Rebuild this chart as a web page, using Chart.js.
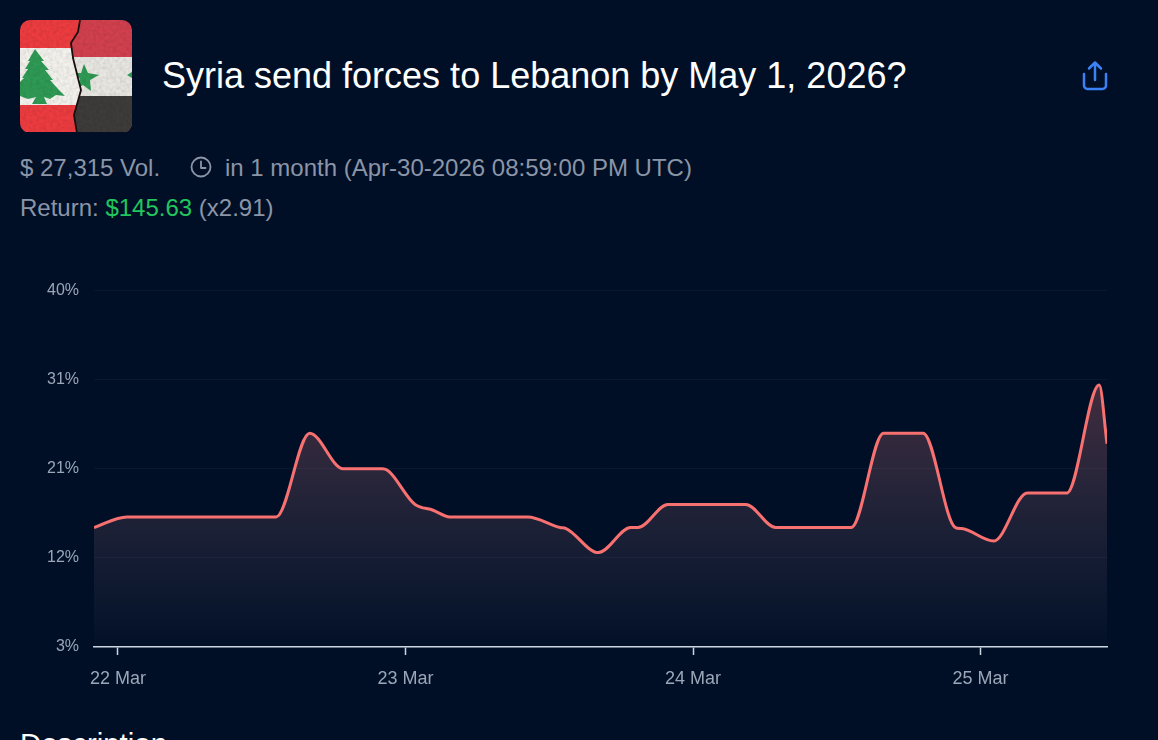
<!DOCTYPE html>
<html>
<head>
<meta charset="utf-8">
<title>Syria send forces to Lebanon by May 1, 2026?</title>
<script src="https://cdn.jsdelivr.net/npm/chart.js@4"></script>
<style>
  html, body { margin: 0; width: 1158px; height: 740px; overflow: hidden; background: #000f26; font-family: "Liberation Sans", Arial, sans-serif; }
  .abs { position: absolute; white-space: nowrap; }
  #title { left: 162px; top: 54px; font-size: 36px; line-height: 44px; color: #fff; }
  .meta { font-size: 24px; line-height: 28px; color: #8b95a7; }
  #chartBox { position: absolute; left: 20px; top: 266px; width: 1100px; height: 424px; }
  #description { left: 20px; top: 727px; font-size: 29.4px; line-height: 34px; color: #fff; }
</style>
</head>
<body>
<svg class="abs" style="left:20px;top:20px" width="112" height="112" viewBox="0 0 112 112">
  <defs>
    <clipPath id="round"><rect width="112" height="113" rx="10"/></clipPath>
    <clipPath id="leftHalf"><path d="M0 0H60L58 12 51 23 53 38 61 70 54 95 57 113H0Z"/></clipPath>
    <clipPath id="rightHalf"><path d="M112 0H60L58 12 51 23 53 38 61 70 54 95 57 113H112Z"/></clipPath>
    <filter id="grain" x="0" y="0" width="100%" height="100%">
      <feTurbulence type="fractalNoise" baseFrequency="0.3" numOctaves="3" seed="4"/>
      <feColorMatrix values="0 0 0 0 0  0 0 0 0 0  0 0 0 0 0  0.9 0 0 0 -0.3"/>
    </filter>
  </defs>
  <g clip-path="url(#round)">
    <g clip-path="url(#leftHalf)">
      <rect width="112" height="113" fill="#ec3c40"/>
      <rect y="28" width="112" height="57" fill="#f3f1ec"/>
      <path fill="#2f9a55" d="M15 29 24 41H21L29 50H25L33 60H30L39 70 45 76 36 75 30 79 24 77 27 84H12L16 77 8 79 0 76V62L4 58H2L8 49H5L10 41H8Z"/>
    </g>
    <g clip-path="url(#rightHalf)">
      <rect width="112" height="113" fill="#d2404e"/>
      <rect y="37" width="112" height="39" fill="#e8e6e1"/>
      <rect y="76" width="112" height="37" fill="#3d3c3a"/>
      <path fill="#2f9a55" d="M64 44 68 53 79 55 70 60 71 71 63 65 58 68 60 59 55 53 61 53Z"/>
      <path fill="#2f9a55" d="M112 52 107 55 112 58Z"/>
    </g>
    <path d="M60 0 58 12 51 23 53 38 61 70 54 95 57 113" fill="none" stroke="#1a0f0f" stroke-width="1.8"/>
    <rect width="112" height="113" filter="url(#grain)" opacity="0.2"/>
  </g>
</svg>
<div class="abs" id="title">Syria send forces to Lebanon by May 1, 2026?</div>
<svg class="abs" style="left:1080px;top:60px" width="30" height="32" viewBox="0 0 30 32" fill="none" stroke="#3b82f6" stroke-width="2.5" stroke-linecap="round" stroke-linejoin="round">
  <path d="M15 20V3M9 8.500 15 2.500 21 8.500"/>
  <path d="M4 14V25.500A3.500 3.500 0 0 0 7.500 29H22.500A3.500 3.500 0 0 0 26 25.500V14"/>
</svg>
<div class="abs meta" style="left:20px;top:154px">$ 27,315 Vol.</div>
<svg class="abs" style="left:190px;top:156px" width="22" height="22" viewBox="0 0 22 22" fill="none" stroke="#8b95a7" stroke-width="1.8" stroke-linecap="round" stroke-linejoin="round">
  <circle cx="11" cy="11" r="9.500"/>
  <path d="M11 5.500V12H15.500"/>
</svg>
<div class="abs meta" style="left:225px;top:154px">in 1 month (Apr-30-2026 08:59:00 PM UTC)</div>
<div class="abs meta" style="left:20px;top:194px">Return: <span style="color:#22c55e">$145.63</span> (x2.91)</div>

<div id="chartBox"><canvas id="priceChart"></canvas></div>
<div class="abs" id="description">Description</div>

<script>
// hours counted from 22 Mar 00:00
const hours = [-2, 0.75, 13.2, 16, 18.8, 22.1, 24.8, 26.3, 27.7, 34.2, 36.9, 37.4, 40.1, 42.8, 43.4, 45.9, 52.4, 54.9, 61.2, 63.9, 67.2, 69.9, 70.4, 73.1, 75.9, 79.2, 81.9, 82.55];
const chance = [15.4, 16.5, 16.5, 25.2, 21.5, 21.5, 17.8, 17.2, 16.5, 16.5, 15.4, 15.3, 12.8, 15.4, 15.4, 17.8, 17.8, 15.4, 15.4, 25.2, 25.2, 15.4, 15.3, 14, 19, 19, 30.2, 24.1];
const dayTicks = [0, 24, 48, 72];
const dayLabels = ['22 Mar', '23 Mar', '24 Mar', '25 Mar'];
const yTicks = [3, 12.25, 21.5, 30.75, 40];
const yLabels = ['3%', '12%', '21%', '31%', '40%'];

const areaFill = (context) => {
    const { chart } = context;
    const { ctx, chartArea, scales } = chart;
    if (!chartArea) return 'transparent';
    const top = scales.y.getPixelForValue(Math.max(...chance));
    const gradient = ctx.createLinearGradient(0, top, 0, chartArea.bottom);
    gradient.addColorStop(0, 'rgba(248, 125, 128, 0.27)');
    gradient.addColorStop(1, 'rgba(190, 170, 190, 0.01)');
    return gradient;
};

new Chart(document.getElementById('priceChart'), {
    type: 'line',
    data: {
        datasets: [{
            data: hours.map((h, i) => ({ x: h, y: chance[i] })),
            borderColor: '#f87171',
            borderWidth: 3,
            backgroundColor: areaFill,
            fill: 'start',
            pointRadius: 0,
            cubicInterpolationMode: 'monotone'
        }]
    },
    options: {
        responsive: true,
        maintainAspectRatio: false,
        animation: false,
        layout: { padding: { top: 15, right: 13, left: 0, bottom: 0 } },
        plugins: { legend: { display: false }, tooltip: { enabled: false } },
        scales: {
            x: {
                type: 'linear',
                min: -2,
                max: 82.55,
                afterBuildTicks: (axis) => { axis.ticks = dayTicks.map(value => ({ value })); },
                afterFit: (axis) => { axis.height = 43; },
                border: { color: '#cbd5e1', width: 1.5 },
                grid: { drawOnChartArea: false, drawTicks: true, tickLength: 8, tickColor: '#cbd5e1', tickWidth: 1.5 },
                ticks: {
                    autoSkip: false,
                    maxRotation: 0,
                    padding: 13,
                    color: '#9ba6b8',
                    font: { family: '"Liberation Sans", Arial, sans-serif', size: 18 },
                    callback: (value) => dayLabels[dayTicks.indexOf(value)]
                }
            },
            y: {
                min: 3,
                max: 40,
                afterBuildTicks: (axis) => { axis.ticks = yTicks.map(value => ({ value })); },
                afterFit: (axis) => { axis.width = 74; },
                border: { display: false },
                grid: { color: 'rgba(148, 163, 184, 0.06)', drawTicks: false },
                ticks: {
                    padding: 15,
                    color: '#9ba6b8',
                    font: { family: '"Liberation Sans", Arial, sans-serif', size: 16 },
                    callback: (value) => yLabels[yTicks.indexOf(value)]
                }
            }
        }
    }
});
</script>
</body>
</html>
